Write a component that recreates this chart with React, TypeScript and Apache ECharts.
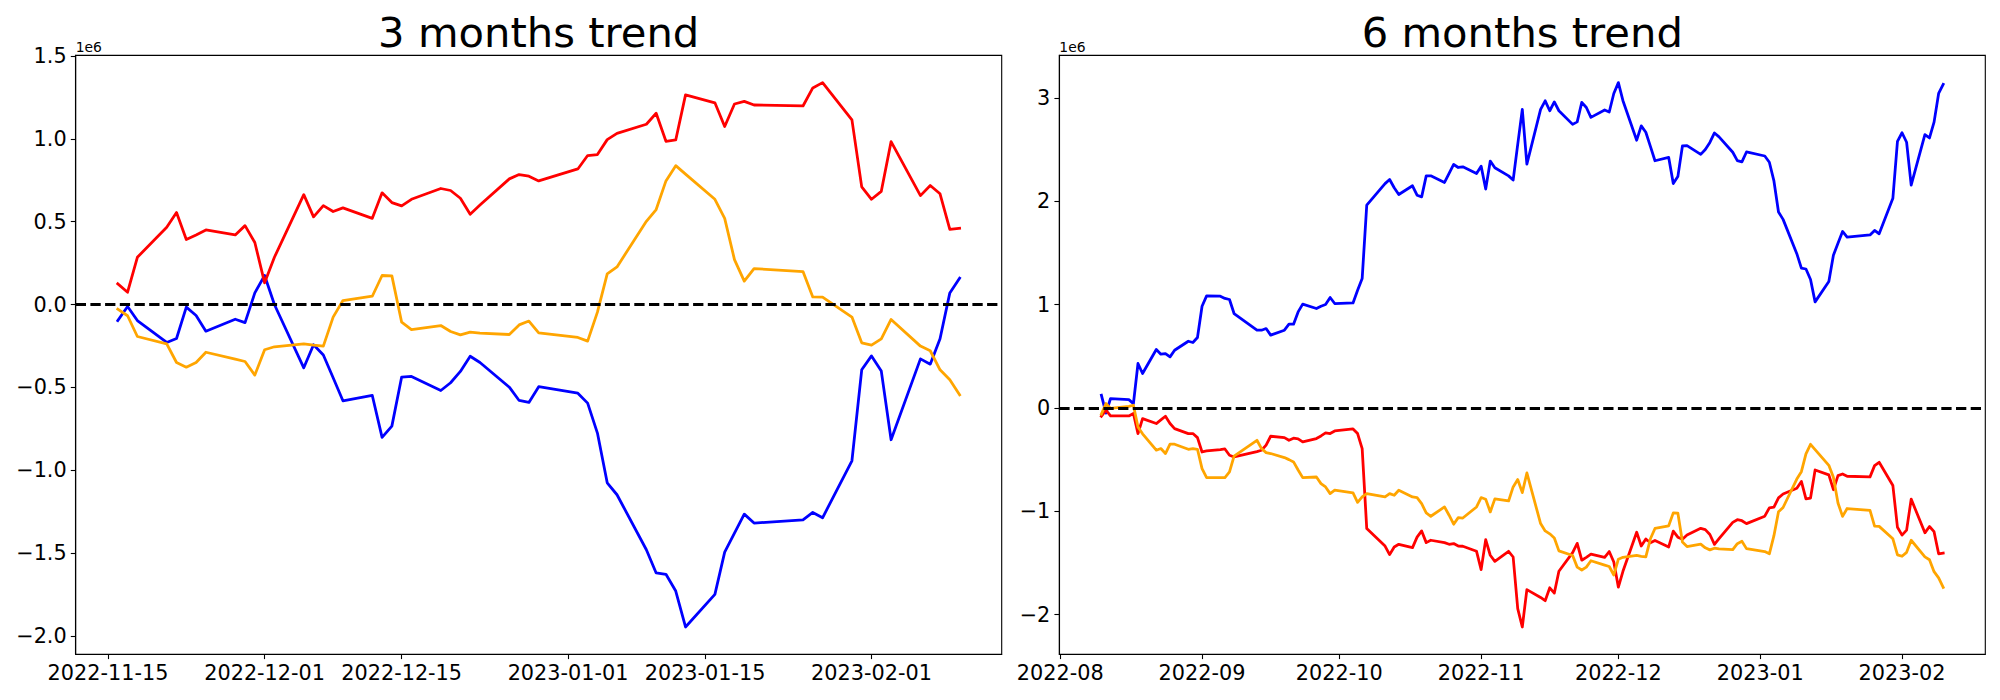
import React, { useEffect, useRef } from "react";
import * as echarts from "echarts";

// Values are in units of 1e6 (the axes show the "1e6" offset, as in the reference).

// ---------- 3 months trend ----------
const dates3m = [
  "2022-11-16", "2022-11-17", "2022-11-18", "2022-11-21", "2022-11-22", "2022-11-23", "2022-11-24", "2022-11-25", "2022-11-28", "2022-11-29", "2022-11-30",
  "2022-12-01", "2022-12-02", "2022-12-05", "2022-12-06", "2022-12-07", "2022-12-08", "2022-12-09", "2022-12-12", "2022-12-13", "2022-12-14", "2022-12-15", "2022-12-16", "2022-12-19", "2022-12-20", "2022-12-21", "2022-12-22", "2022-12-23", "2022-12-26", "2022-12-27", "2022-12-28", "2022-12-29",
  "2023-01-02", "2023-01-03", "2023-01-04", "2023-01-05", "2023-01-06", "2023-01-09", "2023-01-10", "2023-01-11", "2023-01-12", "2023-01-13", "2023-01-16", "2023-01-17", "2023-01-18", "2023-01-19", "2023-01-20", "2023-01-25", "2023-01-26", "2023-01-27", "2023-01-30", "2023-01-31",
  "2023-02-01", "2023-02-02", "2023-02-03", "2023-02-06", "2023-02-07", "2023-02-08", "2023-02-09", "2023-02-10",
];
const blue3m = [
  -0.097, -0.012, -0.097, -0.229, -0.205, -0.016, -0.066, -0.161, -0.089, -0.109, 0.07,
  0.175, 0.0, -0.382, -0.243, -0.305, -0.442, -0.581, -0.549, -0.802, -0.734, -0.438, -0.434, -0.519, -0.472, -0.404, -0.312, -0.35, -0.499, -0.579, -0.591, -0.496,
  -0.535, -0.595, -0.776, -1.076, -1.148, -1.48, -1.62, -1.628, -1.729, -1.946, -1.749, -1.494, -1.379, -1.265, -1.319, -1.299, -1.255, -1.287, -0.943, -0.394,
  -0.31, -0.402, -0.816, -0.328, -0.36, -0.207, 0.07, 0.159,
];
const red3m = [
  0.125, 0.074, 0.285, 0.466, 0.555, 0.392, 0.42, 0.45, 0.42, 0.476, 0.374,
  0.131, 0.285, 0.663, 0.529, 0.597, 0.561, 0.583, 0.52, 0.674, 0.615, 0.595, 0.635, 0.7, 0.688, 0.641, 0.545, 0.6, 0.758, 0.784, 0.774, 0.746,
  0.818, 0.899, 0.905, 0.995, 1.033, 1.088, 1.154, 0.985, 0.993, 1.265, 1.217, 1.074, 1.21, 1.226, 1.204, 1.198, 1.307, 1.339, 1.114, 0.71,
  0.635, 0.683, 0.983, 0.657, 0.718, 0.668, 0.454, 0.46,
];
const orange3m = [
  -0.028, -0.068, -0.193, -0.237, -0.35, -0.378, -0.35, -0.288, -0.33, -0.344, -0.426,
  -0.273, -0.255, -0.237, -0.245, -0.251, -0.076, 0.024, 0.05, 0.175, 0.173, -0.107, -0.151, -0.127, -0.163, -0.183, -0.167, -0.173, -0.181, -0.123, -0.1, -0.171,
  -0.199, -0.221, -0.046, 0.185, 0.227, 0.502, 0.573, 0.746, 0.838, 0.787, 0.635, 0.52, 0.271, 0.141, 0.217, 0.199, 0.046, 0.044, -0.076, -0.231,
  -0.245, -0.207, -0.09, -0.251, -0.279, -0.394, -0.454, -0.545,
];
const xTicks3m = ["2022-11-15", "2022-12-01", "2022-12-15", "2023-01-01", "2023-01-15", "2023-02-01"];
const yTicks3m = [-2, -1.5, -1, -0.5, 0, 0.5, 1, 1.5];

// ---------- 6 months trend ----------
const dates6mHead = [
  "2022-08-10", "2022-08-11", "2022-08-12", "2022-08-16", "2022-08-17", "2022-08-18", "2022-08-19", "2022-08-22", "2022-08-23", "2022-08-24", "2022-08-25", "2022-08-26", "2022-08-29", "2022-08-30", "2022-08-31",
  "2022-09-01", "2022-09-02", "2022-09-05", "2022-09-06", "2022-09-07", "2022-09-08", "2022-09-13", "2022-09-14", "2022-09-15", "2022-09-16", "2022-09-19", "2022-09-20", "2022-09-21", "2022-09-22", "2022-09-23", "2022-09-26", "2022-09-27", "2022-09-28", "2022-09-29", "2022-09-30",
  "2022-10-04", "2022-10-05", "2022-10-06", "2022-10-07", "2022-10-11", "2022-10-12", "2022-10-13", "2022-10-14", "2022-10-17", "2022-10-18", "2022-10-19", "2022-10-20", "2022-10-21", "2022-10-24", "2022-10-25", "2022-10-26", "2022-10-27", "2022-10-28", "2022-10-31",
  "2022-11-01", "2022-11-02", "2022-11-03", "2022-11-04", "2022-11-07", "2022-11-08", "2022-11-09", "2022-11-10", "2022-11-11", "2022-11-14", "2022-11-15",
];
const dates6m = [...dates6mHead, ...dates3m];
const blue6m = [
  0.123, -0.05, 0.091, 0.08, 0.042, 0.43, 0.333, 0.565, 0.52, 0.526, 0.494, 0.558, 0.645, 0.633, 0.681,
  0.984, 1.084, 1.081, 1.059, 1.049, 0.913, 0.752, 0.752, 0.768, 0.704, 0.752, 0.81, 0.81, 0.929, 1.004, 0.962, 0.984, 1.0, 1.068, 1.01,
  1.016, 1.139, 1.252, 1.962, 2.17, 2.21, 2.13, 2.065, 2.149, 2.058, 2.042, 2.245, 2.245, 2.181, 2.268, 2.355, 2.326, 2.332, 2.268,
  2.339, 2.117, 2.388, 2.323, 2.245, 2.204, 2.55, 2.888, 2.358, 2.888, 2.971, 2.875, 2.96, 2.875, 2.743, 2.767, 2.956, 2.906, 2.811, 2.883, 2.863, 3.042,
  3.147, 2.972, 2.59, 2.729, 2.667, 2.53, 2.391, 2.423, 2.17, 2.238, 2.534, 2.538, 2.453, 2.5, 2.568, 2.66, 2.622, 2.473, 2.393, 2.381, 2.476,
  2.437, 2.377, 2.196, 1.896, 1.824, 1.492, 1.352, 1.344, 1.243, 1.026, 1.223, 1.478, 1.593, 1.707, 1.653, 1.673, 1.717, 1.685, 2.029, 2.578,
  2.662, 2.57, 2.156, 2.644, 2.612, 2.765, 3.042, 3.131,
];
const red6m = [
  -0.08, -0.022, -0.077, -0.077, -0.054, -0.248, -0.103, -0.151, -0.116, -0.08, -0.151, -0.2, -0.248, -0.248, -0.287,
  -0.426, -0.416, -0.403, -0.397, -0.458, -0.474, -0.422, -0.409, -0.36, -0.274, -0.287, -0.313, -0.293, -0.3, -0.329, -0.296, -0.271, -0.242, -0.248, -0.223,
  -0.203, -0.248, -0.393, -1.167, -1.336, -1.419, -1.345, -1.319, -1.351, -1.25, -1.19, -1.303, -1.28, -1.303, -1.319, -1.312, -1.336, -1.338, -1.387,
  -1.564, -1.274, -1.425, -1.484, -1.387, -1.442, -1.941, -2.119, -1.758, -1.833, -1.865, -1.74, -1.791, -1.58, -1.399, -1.31, -1.473, -1.445, -1.415, -1.445, -1.389, -1.491,
  -1.734, -1.58, -1.202, -1.336, -1.268, -1.304, -1.282, -1.345, -1.191, -1.25, -1.27, -1.23, -1.165, -1.177, -1.224, -1.32, -1.265, -1.107, -1.081, -1.091, -1.119,
  -1.047, -0.966, -0.96, -0.87, -0.832, -0.777, -0.711, -0.88, -0.872, -0.6, -0.648, -0.791, -0.655, -0.639, -0.661, -0.667, -0.558, -0.526, -0.751, -1.155,
  -1.23, -1.182, -0.882, -1.208, -1.147, -1.197, -1.411, -1.405,
];
const orange6m = [
  -0.06, 0.043, -0.005, 0.015, 0.026, -0.184, -0.25, -0.409, -0.393, -0.441, -0.351, -0.351, -0.4, -0.393, -0.4,
  -0.587, -0.674, -0.674, -0.674, -0.619, -0.467, -0.313, -0.393, -0.432, -0.441, -0.48, -0.5, -0.522, -0.6, -0.674, -0.668, -0.732, -0.764, -0.829, -0.796,
  -0.822, -0.913, -0.861, -0.829, -0.861, -0.829, -0.845, -0.796, -0.861, -0.867, -0.926, -1.016, -1.048, -0.958, -1.038, -1.125, -1.061, -1.065, -0.958,
  -0.867, -0.883, -1.006, -0.88, -0.9, -0.764, -0.693, -0.819, -0.629, -1.119, -1.19, -1.218, -1.258, -1.383, -1.427, -1.54, -1.568, -1.54, -1.478, -1.52, -1.534, -1.616,
  -1.463, -1.445, -1.427, -1.435, -1.441, -1.266, -1.166, -1.14, -1.015, -1.017, -1.297, -1.341, -1.317, -1.353, -1.373, -1.357, -1.363, -1.371, -1.313, -1.29, -1.361,
  -1.389, -1.411, -1.236, -1.005, -0.963, -0.688, -0.617, -0.444, -0.352, -0.403, -0.555, -0.67, -0.919, -1.049, -0.973, -0.991, -1.144, -1.146, -1.266, -1.421,
  -1.435, -1.397, -1.28, -1.441, -1.469, -1.584, -1.644, -1.735,
];
const xTicks6m = ["2022-08-01", "2022-09-01", "2022-10-01", "2022-11-01", "2022-12-01", "2023-01-01", "2023-02-01"];
const yTicks6m = [-2, -1, 0, 1, 2, 3];

const titles = ["3 months trend", "6 months trend"];

// ---------- helpers ----------
const FONT = "DejaVu Sans";
const LW = 2.78;

function ts(d: string): number {
  const [y, m, dd] = d.split("-").map(Number);
  return new Date(y, m - 1, dd).getTime();
}
const pad2 = (n: number) => (n < 10 ? "0" + n : "" + n);
const fmtDay = (v: number) => {
  const d = new Date(v);
  return d.getFullYear() + "-" + pad2(d.getMonth() + 1) + "-" + pad2(d.getDate());
};
const fmtMonth = (v: number) => {
  const d = new Date(v);
  return d.getFullYear() + "-" + pad2(d.getMonth() + 1);
};
const fmtNum = (digits: number) => (v: number) =>
  (v < 0 ? "\u2212" : "") + Math.abs(v).toFixed(digits);

function extent(...arrs: number[][]) {
  let lo = Infinity, hi = -Infinity;
  arrs.forEach((a) => a.forEach((v) => { lo = Math.min(lo, v); hi = Math.max(hi, v); }));
  const m = (hi - lo) * 0.05;
  return [lo - m, hi + m];
}

const GRIDS = [
  { left: 75.7, top: 55.4, width: 926, height: 598.8 },
  { left: 1059.3, top: 55.4, width: 926, height: 598.8 },
];

function buildOption() {
  const pairs = (dates: string[], vals: number[]) => dates.map((d, i) => [ts(d), vals[i]]);
  const axisLineStyle = { color: "#000", width: 1.1 };
  const labelStyle = { fontSize: 20.8, fontFamily: FONT, color: "#000" };

  const panels = [
    { dates: dates3m, blue: blue3m, red: red3m, orange: orange3m, xt: xTicks3m, yt: yTicks3m, xf: fmtDay, yf: fmtNum(1) },
    { dates: dates6m, blue: blue6m, red: red6m, orange: orange6m, xt: xTicks6m, yt: yTicks6m, xf: fmtMonth, yf: fmtNum(0) },
  ];

  const xAxis: any[] = [];
  const yAxis: any[] = [];
  const series: any[] = [];
  panels.forEach((p, i) => {
    const t0 = ts(p.dates[0]);
    const t1 = ts(p.dates[p.dates.length - 1]);
    const mx = (t1 - t0) * 0.05;
    const [ylo, yhi] = extent(p.blue, p.red, p.orange);
    xAxis.push({
      type: "value",
      gridIndex: i,
      min: t0 - mx,
      max: t1 + mx,
      axisLine: { show: true, onZero: false, lineStyle: axisLineStyle },
      axisTick: { show: true, length: 4.9, lineStyle: axisLineStyle, customValues: p.xt.map(ts) },
      axisLabel: { ...labelStyle, margin: 8, customValues: p.xt.map(ts), formatter: (v: number) => p.xf(v) },
      splitLine: { show: false },
      minorTick: { show: false },
    });
    yAxis.push({
      type: "value",
      gridIndex: i,
      min: ylo,
      max: yhi,
      axisLine: { show: true, onZero: false, lineStyle: axisLineStyle },
      axisTick: { show: true, length: 4.9, lineStyle: axisLineStyle, customValues: p.yt },
      axisLabel: { ...labelStyle, margin: 9, customValues: p.yt, formatter: (v: number) => p.yf(v) },
      splitLine: { show: false },
    });
    const lineSeries = (name: string, color: string, vals: number[], z: number) => ({
      type: "line",
      name,
      xAxisIndex: i,
      yAxisIndex: i,
      data: pairs(p.dates, vals),
      showSymbol: false,
      symbol: "none",
      z,
      lineStyle: { color, width: LW, join: "round", cap: "square" },
      itemStyle: { color },
      emphasis: { disabled: true },
    });
    series.push(lineSeries("blue", "#0000ff", p.blue, 2));
    series.push(lineSeries("red", "#ff0000", p.red, 3));
    const o: any = lineSeries("orange", "#ffa500", p.orange, 4);
    o.markLine = {
      silent: true,
      symbol: "none",
      z: 10,
      label: { show: false },
      lineStyle: { color: "#000", width: 2.78, type: [10.3, 4.4] },
      emphasis: { disabled: true },
      data: [{ yAxis: 0 }],
    };
    series.push(o);
  });

  const graphic: any[] = [];
  GRIDS.forEach((g, i) => {
    graphic.push({
      type: "text",
      x: g.left + g.width / 2,
      y: 32.6,
      style: { text: titles[i], fontSize: 41.7, fontFamily: FONT, fill: "#000", align: "center", verticalAlign: "middle" },
    });
    graphic.push({
      type: "text",
      x: g.left,
      y: 46.8,
      style: { text: "1e6", fontSize: 13.9, fontFamily: FONT, fill: "#000", align: "left", verticalAlign: "middle" },
    });
  });

  return {
    animation: false,
    backgroundColor: "#fff",
    grid: GRIDS.map((g) => ({ ...g, show: true, borderColor: "#000", borderWidth: 1.1, containLabel: false })),
    xAxis,
    yAxis,
    series,
    graphic,
  };
}

export default function App() {
  const ref = useRef<HTMLDivElement>(null);
  useEffect(() => {
    if (!ref.current) return;
    const chart = echarts.init(ref.current, undefined, { renderer: "svg" });
    chart.setOption(buildOption() as any);
    return () => chart.dispose();
  }, []);
  return (
    <div
      ref={ref}
      style={{ position: "fixed", left: 0, top: 0, width: 2000, height: 700, background: "#fff" }}
    />
  );
}
